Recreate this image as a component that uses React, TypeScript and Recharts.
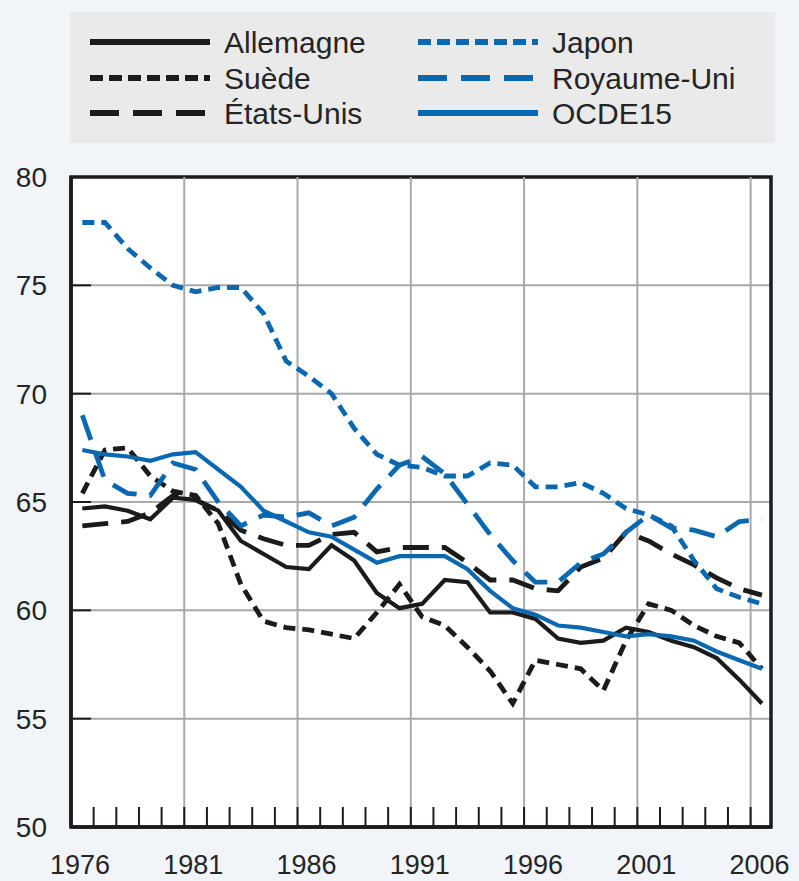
import React from 'react';
import {
  LineChart,
  Line,
  XAxis,
  YAxis,
  CartesianGrid,
  ReferenceLine,
  ReferenceArea,
  Legend,
} from 'recharts';

// ---- Data ----
const years = [
  1976, 1977, 1978, 1979, 1980, 1981, 1982, 1983, 1984, 1985, 1986, 1987, 1988, 1989, 1990,
  1991, 1992, 1993, 1994, 1995, 1996, 1997, 1998, 1999, 2000, 2001, 2002, 2003, 2004, 2005, 2006,
];

const allemagne = [
  64.7, 64.8, 64.6, 64.2, 65.2, 65.1, 64.6, 63.2, 62.6, 62.0, 61.9, 63.0, 62.3, 60.8, 60.1,
  60.3, 61.4, 61.3, 59.9, 59.9, 59.6, 58.7, 58.5, 58.6, 59.2, 59.0, 58.6, 58.3, 57.8, 56.8, 55.7,
];
const suede = [
  65.4, 67.4, 67.5, 66.2, 65.5, 65.3, 64.0, 61.2, 59.5, 59.2, 59.1, 58.9, 58.7, 59.9, 61.2,
  59.7, 59.3, 58.3, 57.2, 55.7, 57.7, 57.5, 57.3, 56.3, 58.6, 60.3, 60.0, 59.3, 58.8, 58.5, 57.3,
];
const etatsUnis = [
  63.9, 64.0, 64.1, 64.5, 65.3, 65.1, 64.6, 63.7, 63.3, 63.0, 63.0, 63.5, 63.6, 62.7, 62.9,
  62.9, 62.9, 62.2, 61.4, 61.4, 61.0, 60.9, 62.0, 62.4, 63.6, 63.2, 62.6, 62.1, 61.5, 61.0, 60.7,
];
const japon = [
  77.9, 77.9, 76.7, 75.8, 75.0, 74.7, 74.9, 74.9, 73.7, 71.5, 70.8, 70.0, 68.4, 67.2, 66.7,
  66.6, 66.2, 66.2, 66.8, 66.7, 65.7, 65.7, 65.9, 65.4, 64.7, 64.4, 63.9, 62.3, 61.0, 60.6, 60.3,
];
const royaumeUni = [
  69.0, 66.0, 65.4, 65.3, 66.8, 66.5, 65.0, 63.9, 64.4, 64.3, 64.5, 63.9, 64.3, 65.6, 66.7,
  67.1, 66.3, 64.9, 63.5, 62.3, 61.3, 61.3, 62.2, 62.6, 63.6, 64.4, 63.8, 63.7, 63.4, 64.1, 64.2,
];
const ocde15 = [
  67.4, 67.2, 67.1, 66.9, 67.2, 67.3, 66.5, 65.7, 64.6, 64.1, 63.6, 63.4, 62.8, 62.2, 62.5,
  62.5, 62.5, 61.9, 60.9, 60.1, 59.8, 59.3, 59.2, 59.0, 58.8, 58.9, 58.8, 58.6, 58.1, 57.7, 57.3,
];

const seriesNames = ['Allemagne', 'Suède', 'États-Unis', 'Japon', 'Royaume-Uni', 'OCDE15'];
const seriesKeys = ['allemagne', 'suede', 'etatsUnis', 'japon', 'royaumeUni', 'ocde15'];

const xLabelTicks = [1976, 1981, 1986, 1991, 1996, 2001, 2006];
const xGridTicks = [1981, 1986, 1991, 1996, 2001, 2006];
const yTicks = [50, 55, 60, 65, 70, 75, 80];

const data = years.map((y, i) => ({
  x: y + 0.5,
  allemagne: allemagne[i],
  suede: suede[i],
  etatsUnis: etatsUnis[i],
  japon: japon[i],
  royaumeUni: royaumeUni[i],
  ocde15: ocde15[i],
}));

// ---- Styles ----
const BLACK = '#1b1b1b';
const BLUE = '#0a68b0';
const FONT = '"Liberation Sans", Arial, Helvetica, sans-serif';
const TEXT = '#252525';

const SHORT_DASH = '12 7';
const LONG_DASH = '26 13';

const styles: Record<string, { color: string; dash?: string; width: number }> = {
  allemagne: { color: BLACK, width: 4.2 },
  suede: { color: BLACK, dash: SHORT_DASH, width: 4.8 },
  etatsUnis: { color: BLACK, dash: LONG_DASH, width: 4.8 },
  japon: { color: BLUE, dash: SHORT_DASH, width: 4.8 },
  royaumeUni: { color: BLUE, dash: LONG_DASH, width: 4.8 },
  ocde15: { color: BLUE, width: 4.2 },
};

const XTick = (props: any) => {
  const { x, y, payload } = props;
  const v = payload.value;
  const isLabel = xLabelTicks.includes(v);
  return (
    <g>
      {v !== 1976 && (
        <line x1={x} x2={x} y1={y} y2={y - 20} stroke={BLACK} strokeWidth={2} />
      )}
      {isLabel && (
        <text
          x={x + 9}
          y={y + 47}
          textAnchor="middle"
          fontFamily={FONT}
          fontSize={27}
          fill={TEXT}
        >
          {v}
        </text>
      )}
    </g>
  );
};

const YTick = (props: any) => {
  const { x, y, payload } = props;
  const v = payload.value;
  return (
    <g>
      {v !== 50 && v !== 80 && (
        <line x1={x} x2={x + 20} y1={y} y2={y} stroke={BLACK} strokeWidth={2} />
      )}
      <text
        x={x - 24}
        y={y + 10}
        textAnchor="end"
        fontFamily={FONT}
        fontSize={28}
        fill={TEXT}
      >
        {v}
      </text>
    </g>
  );
};

const LegendContent = () => {
  const rowY = [30, 66, 101];
  return (
    <svg width={705} height={131} style={{ display: 'block' }}>
      <rect x={0} y={0} width={705} height={131} fill="#eaeaea" />
      {seriesKeys.map((k, i) => {
        const col = Math.floor(i / 3);
        const row = i % 3;
        const s = styles[k];
        const lx = col === 0 ? 20 : 348;
        const cy = rowY[row];
        return (
          <g key={k}>
            <line
              x1={lx}
              x2={lx + 120}
              y1={cy}
              y2={cy}
              stroke={s.color}
              strokeWidth={6}
              strokeDasharray={s.dash ? (s.dash === LONG_DASH ? '29 14' : '13 6') : undefined}
            />
            <text
              x={lx + 134}
              y={cy + 11}
              fontFamily={FONT}
              fontSize={30}
              fill={TEXT}
            >
              {seriesNames[i]}
            </text>
          </g>
        );
      })}
    </svg>
  );
};

export default function App() {
  return (
    <div
      style={{
        position: 'absolute',
        left: 0,
        top: 0,
        width: 799,
        height: 881,
        background: '#f1f4f9',
        overflow: 'hidden',
      }}
    >
      <LineChart
        width={799}
        height={881}
        data={data}
        margin={{ top: 177, right: 28, bottom: 0, left: 0 }}
      >
        <CartesianGrid
          vertical={false}
          stroke="#a9a9a9"
          strokeWidth={2}
          fill="#ffffff"
          horizontalValues={yTicks}
        />
        {xGridTicks.map((t) => (
          <ReferenceLine key={t} x={t} stroke="#a9a9a9" strokeWidth={2} />
        ))}
        <XAxis
          type="number"
          dataKey="x"
          domain={[1976, 2006.9]}
          allowDataOverflow
          ticks={years}
          interval={0}
          tickSize={0}
          tickMargin={0}
          height={54}
          axisLine={{ stroke: BLACK, strokeWidth: 3.5 }}
          tick={<XTick />}
        />
        <YAxis
          type="number"
          domain={[50, 80]}
          ticks={yTicks}
          interval={0}
          tickSize={0}
          tickMargin={0}
          width={71}
          axisLine={{ stroke: BLACK, strokeWidth: 3.5 }}
          tick={<YTick />}
        />
        {seriesKeys.map((k, i) => (
          <Line
            key={k}
            type="linear"
            dataKey={k}
            name={seriesNames[i]}
            stroke={styles[k].color}
            strokeWidth={styles[k].width}
            strokeDasharray={styles[k].dash}
            dot={false}
            activeDot={false}
            isAnimationActive={false}
          />
        ))}
        <ReferenceArea
          x1={1976}
          x2={2006.9}
          y1={50}
          y2={80}
          fill="none"
          fillOpacity={0}
          stroke={BLACK}
          strokeWidth={3.5}
        />
        <Legend
          layout="vertical"
          verticalAlign="middle"
          align="center"
          content={<LegendContent />}
          wrapperStyle={{ position: 'absolute', left: 70, top: 12, width: 705, height: 131 }}
        />
      </LineChart>
    </div>
  );
}
